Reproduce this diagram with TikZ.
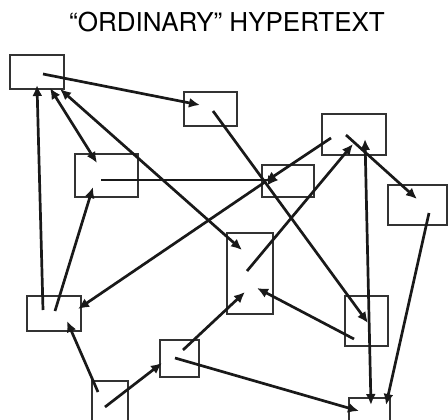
\documentclass[tikz,border=0pt]{standalone}
\usepackage{fontspec}
\setmainfont{TeX Gyre Heros}
\usetikzlibrary{arrows.meta}
\begin{document}
\begin{tikzpicture}[x=1pt, y=-1pt,
  box/.style={draw=black!80, line width=1.5pt, inner sep=0pt},
  link/.style={draw=black!90, line width=2.7pt, -{Latex[length=11pt,width=10pt]}},
  biglink/.style={link, {Latex[length=11pt,width=10pt]}-{Latex[length=11pt,width=10pt]}}]
\clip (0,0) rectangle (448,420);
\node[font=\fontsize{26}{30}\selectfont, anchor=base] (title) at (227,31.5) {“ORDINARY” HYPERTEXT};
% the pages
\node[box, minimum width=54, minimum height=34] (A) at (37,72) {};
\node[box, minimum width=53, minimum height=34] (B) at (210.5,109) {};
\node[box, minimum width=63, minimum height=43] (C) at (106.5,175.5) {};
\node[box, minimum width=64, minimum height=41] (D) at (354,134.5) {};
\node[box, minimum width=52, minimum height=32] (E) at (288,181) {};
\node[box, minimum width=59, minimum height=40] (F) at (417.5,205) {};
\node[box, minimum width=46, minimum height=81] (G) at (250,273.5) {};
\node[box, minimum width=54, minimum height=35] (H) at (54,313.5) {};
\node[box, minimum width=43, minimum height=50] (I) at (366.5,321) {};
\node[box, minimum width=39, minimum height=37] (J) at (179.5,358.5) {};
\node[box, minimum width=36, minimum height=50] (K) at (110,406) {};
\node[box, minimum width=41, minimum height=50] (L) at (369.5,423) {};
% the links
\draw[link] ([shift={(6,2)}]A.center) -- ([shift={(-10.5,-4)}]B.center);
\draw[link] ([shift={(-11,-3.5)}]H.center) -- ([shift={(0,13)}]A.center);
\draw[biglink] ([shift={(13,16)}]A.center) -- ([shift={(-9.5,-12.5)}]C.center);
\draw[biglink] ([shift={(23,17)}]A.center) -- ([shift={(-8,-23.5)}]G.center);
\draw[link] ([shift={(2.5,2)}]B.center) -- ([shift={(1.5,2)}]I.center);
\draw[link] ([shift={(-5.5,4.5)}]C.center) -- ([shift={(-9,-1)}]E.center);
\draw[link] ([shift={(1,-2.5)}]H.center) -- ([shift={(-13.5,11.5)}]C.center);
\draw[link] ([shift={(-23,3.5)}]D.center) -- ([shift={(-23,1)}]E.center);
\draw[link] ([shift={(-23,1)}]E.center) -- ([shift={(24,-4.5)}]H.center);
\draw[link] ([shift={(-3,-2.5)}]G.center) -- ([shift={(-1,9.5)}]D.center);
\draw[link] ([shift={(-8,0.5)}]D.center) -- ([shift={(-0.5,-6)}]F.center);
\draw[biglink] ([shift={(1.5,-18)}]L.center) -- ([shift={(11,4.5)}]D.center);
\draw[link] ([shift={(11.5,8)}]F.center) -- ([shift={(16.5,-18)}]L.center);
\draw[link] ([shift={(-12.5,18)}]I.center) -- ([shift={(7,14.5)}]G.center);
\draw[link] ([shift={(-12,-14)}]K.center) -- ([shift={(13,7.5)}]H.center);
\draw[link] ([shift={(-5,1)}]K.center) -- ([shift={(-17.5,4.5)}]J.center);
\draw[link] ([shift={(3.5,-8.5)}]J.center) -- ([shift={(-5,18.5)}]G.center);
\draw[link] ([shift={(-4.5,-0.5)}]J.center) -- ([shift={(-10.5,-12)}]L.center);
\end{tikzpicture}
\end{document}
